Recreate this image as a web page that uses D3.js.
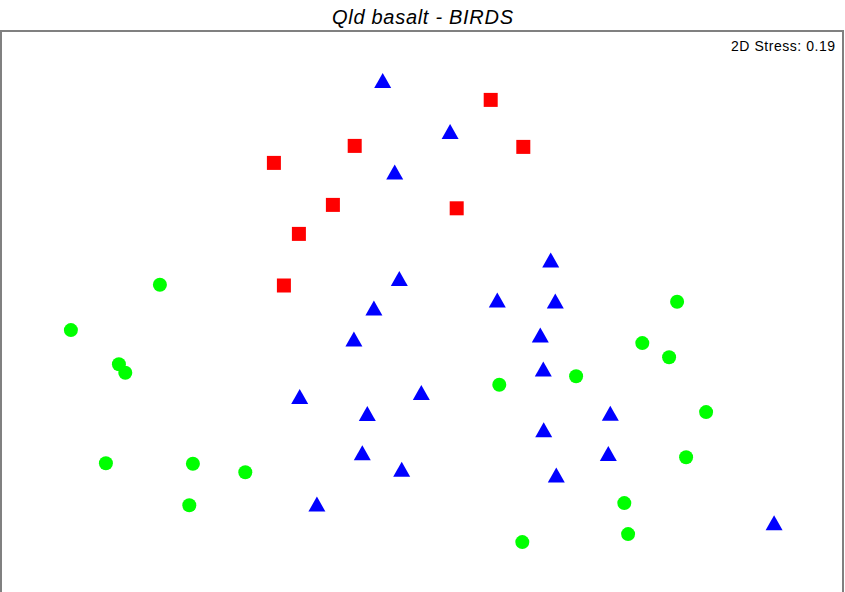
<!DOCTYPE html>
<html>
<head>
<meta charset="utf-8">
<script src="https://cdn.jsdelivr.net/npm/d3@7"></script>
<style>
  html, body { margin: 0; padding: 0; background: #fff; overflow: hidden; }
  svg { display: block; }
</style>
</head>
<body>
<script>
// nMDS ordination of bird assemblages on Queensland basalt sites (2D configuration)
const chartTitle = "Qld basalt - BIRDS";
const stressLabel = "2D Stress: 0.19";

// Group A (blue triangles): MDS1, MDS2
const triX = [-0.199, 0.138, -0.139, 0.641, -0.116, 0.374, 0.664, -0.243, 0.589, -0.343, 0.604,
              -0.006, -0.614, -0.276, 0.939, 0.606, -0.301, 0.929, -0.104, 0.669, -0.528, 1.758];
const triY = [1.155, 0.900, 0.698, 0.258, 0.165, 0.058, 0.053, 0.018, -0.118, -0.138, -0.288,
              -0.405, -0.425, -0.510, -0.509, -0.591, -0.706, -0.710, -0.789, -0.818, -0.963, -1.056];

// Group B (red squares)
const sqX = [0.341, -0.339, 0.504, -0.743, -0.448, 0.171, -0.618, -0.693];
const sqY = [1.058, 0.828, 0.823, 0.743, 0.533, 0.516, 0.388, 0.130];

// Group C (green circles)
const circX = [-1.313, 1.273, -1.758, 1.099, -1.518, -1.486, 1.233, 0.384, 0.768, 1.418,
               -1.583, -1.148, -0.886, 1.318, -1.166, 1.009, 1.028, 0.499];
const circY = [0.134, 0.049, -0.093, -0.158, -0.264, -0.306, -0.229, -0.366, -0.324, -0.503,
               -0.759, -0.761, -0.804, -0.729, -0.969, -0.958, -1.113, -1.153];

const W = 845, H = 592;
const svg = d3.select("body").append("svg").attr("width", W).attr("height", H);

// Configuration space is isotropic: same pixels per unit on both axes
const x = d3.scaleLinear().domain([-2, 2]).range([22.5, 822.5]);
const y = d3.scaleLinear().domain([-1.5, 1.5]).range([611.5, 11.5]);

// Title
svg.append("text")
  .attr("x", 422.5).attr("y", 24)
  .attr("text-anchor", "middle")
  .attr("font-family", "Liberation Sans, Arial, sans-serif")
  .attr("font-style", "italic")
  .attr("font-size", 20)
  .attr("textLength", 181)
  .attr("lengthAdjust", "spacing")
  .attr("fill", "#000")
  .text(chartTitle);

// Plot frame (continues below the visible area)
svg.append("rect")
  .attr("x", 1).attr("y", 31)
  .attr("width", 842).attr("height", 620)
  .attr("fill", "none")
  .attr("stroke", "#808080")
  .attr("stroke-width", 2);

// Stress annotation
svg.append("text")
  .attr("x", 835).attr("y", 51)
  .attr("text-anchor", "end")
  .attr("font-family", "Liberation Sans, Arial, sans-serif")
  .attr("font-size", 14)
  .attr("textLength", 104)
  .attr("lengthAdjust", "spacing")
  .attr("fill", "#000")
  .text(stressLabel);

const g = svg.append("g");

const triPts = triX.map((v, i) => ({ x: v, y: triY[i] }));
const sqPts = sqX.map((v, i) => ({ x: v, y: sqY[i] }));
const circPts = circX.map((v, i) => ({ x: v, y: circY[i] }));

// Triangles: ~17px wide, ~15px tall
const triPath = "M0,-7.5L8.5,7.5L-8.5,7.5Z";
g.selectAll("path.tri").data(triPts).join("path")
  .attr("class", "tri")
  .attr("d", triPath)
  .attr("transform", d => `translate(${x(d.x)},${y(d.y)})`)
  .attr("fill", "#0000ff");

// Squares: 14px
g.selectAll("rect.sq").data(sqPts).join("rect")
  .attr("class", "sq")
  .attr("x", d => x(d.x) - 7)
  .attr("y", d => y(d.y) - 7)
  .attr("width", 14).attr("height", 14)
  .attr("fill", "#ff0000");

// Circles: 14px diameter
g.selectAll("circle.pt").data(circPts).join("circle")
  .attr("class", "pt")
  .attr("cx", d => x(d.x))
  .attr("cy", d => y(d.y))
  .attr("r", 7)
  .attr("fill", "#00ff00");
</script>
</body>
</html>
